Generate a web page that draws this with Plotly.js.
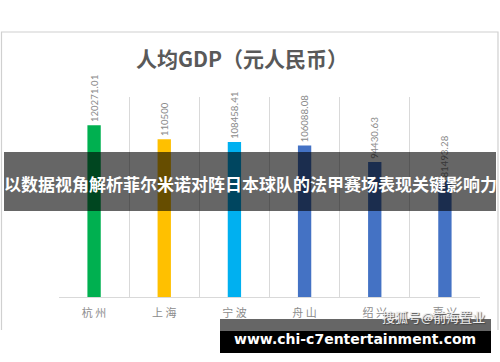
<!DOCTYPE html>
<html>
<head>
<meta charset="utf-8">
<script src="https://cdn.plot.ly/plotly-3.0.1.min.js"></script>
<style>html,body{margin:0;padding:0;background:#fff;}#chart{width:500px;height:362px;}</style>
</head>
<body>
<div id="chart"></div>
<script>
const categories = ['杭州', '上海', '宁波', '舟山', '绍兴', '嘉兴'];
const values = [120271.01, 110500, 108458.41, 106088.08, 94430.63, 81493.28];
const labels = ['120271.01', '110500', '108458.41', '106088.08', '94430.63', '81493.28'];
const barColors = ['#00B050', '#FFC000', '#00B0F0', '#4472C4', '#4472C4', '#4472C4'];
const chartTitle = '人均GDP（元人民币）';
const bannerText = '以数据视角解析菲尔米诺对阵日本球队的法甲赛场表现关键影响力';
const sourceText = '搜狐号@前海置业';
const siteText = 'www.chi-c7entertainment.com';

const W = 500, H = 362;
const L = 59, R = 480, T = 97, B = 297;
const px = x => (x - L) / (R - L);
const py = y => (B - y) / (B - T);

const cjk = '"Noto Sans CJK SC", "Noto Sans", sans-serif';

const trace = {
  type: 'bar',
  x: categories,
  y: values,
  text: labels,
  textposition: 'outside',
  textangle: -90,
  constraintext: 'none',
  cliponaxis: false,
  textfont: {family: 'Calibri, "Liberation Sans", Arial, sans-serif', size: 11, color: '#8c8c8c'},
  marker: {color: barColors},
  width: 0.19,
  hoverinfo: 'none'
};

const layout = {
  width: W, height: H,
  margin: {l: L, r: W - R, t: T, b: H - B, pad: 0},
  paper_bgcolor: '#ffffff',
  plot_bgcolor: '#ffffff',
  showlegend: false,
  title: {
    text: '<b>' + chartTitle + '</b>',
    font: {family: cjk, size: 21, color: '#595959'},
    x: 242 / W, xanchor: 'center', xref: 'container',
    y: 1 - 60 / H, yanchor: 'middle', yref: 'container'
  },
  xaxis: {
    type: 'category',
    range: [-0.5, 5.5],
    tickson: 'boundaries',
    ticks: '',
    showgrid: true,
    gridcolor: '#d9d9d9',
    gridwidth: 1,
    showline: true,
    linecolor: '#d9d9d9',
    linewidth: 1,
    tickvals: categories,
    ticktext: categories.map(c => c.split('').join(' ')),
    tickfont: {family: cjk, size: 11, color: '#8c8c8c'},
    ticklabelstandoff: 6,
    fixedrange: true
  },
  yaxis: {
    range: [0, 140000],
    showticklabels: false,
    showgrid: false,
    zeroline: false,
    showline: false,
    ticks: '',
    fixedrange: true
  },
  shapes: [
    {type: 'path', xref: 'paper', yref: 'paper', layer: 'below',
     path: `M ${px(1.5)} ${py(330)} L ${px(1.5)} ${py(32)} L ${px(498)} ${py(32)} L ${px(498)} ${py(330)}`,
     line: {color: '#d0d0d0', width: 1.2}},
    {type: 'rect', xref: 'paper', yref: 'paper', layer: 'above',
     x0: px(4), x1: px(496), y0: py(211), y1: py(152),
     fillcolor: 'rgba(0,0,0,0.6)', line: {width: 0}},
    {type: 'rect', xref: 'paper', yref: 'paper', layer: 'above',
     x0: px(220), x1: px(491), y0: py(331), y1: py(319),
     fillcolor: 'rgba(0,0,0,0.6)', line: {width: 0}},
    {type: 'rect', xref: 'paper', yref: 'paper', layer: 'above',
     x0: px(220), x1: px(491), y0: py(353), y1: py(331),
     fillcolor: '#000000', line: {width: 0}}
  ],
  annotations: [
    {text: '<b>' + bannerText + '</b>', xref: 'paper', yref: 'paper',
     x: px(250), y: py(183), xanchor: 'center', yanchor: 'middle', showarrow: false,
     font: {family: cjk, size: 17, color: '#ffffff'}},
    {text: sourceText, xref: 'paper', yref: 'paper',
     x: px(433), y: py(316), xanchor: 'center', yanchor: 'middle', showarrow: false,
     font: {family: cjk, size: 13, color: '#eeeeee', shadow: '1px 1px 1px #444'}},
    {text: '<b>' + siteText + '</b>', xref: 'paper', yref: 'paper',
     x: px(355), y: py(339), xanchor: 'center', yanchor: 'middle', showarrow: false,
     font: {family: '"DejaVu Sans", Verdana, sans-serif', size: 14, color: '#ffffff'}}
  ]
};

Plotly.newPlot('chart', [trace], layout, {displayModeBar: false, staticPlot: true});
</script>
</body>
</html>
